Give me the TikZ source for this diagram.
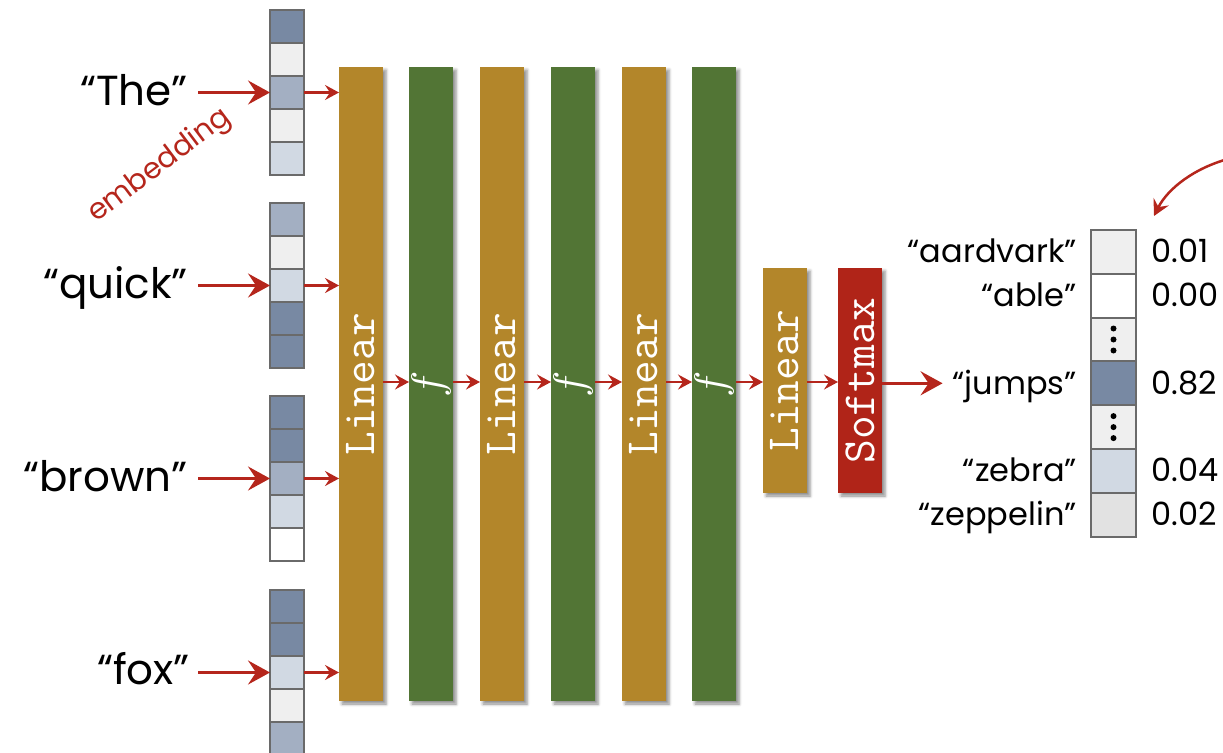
\documentclass[tikz,border=0pt]{standalone}
\usepackage{fontspec}
\setmainfont{Poppins}
\usetikzlibrary{arrows.meta,shadows.blur,calc}
\definecolor{arrowred}{HTML}{B5261C}
\definecolor{lingold}{HTML}{B3862A}
\definecolor{fgreen}{HTML}{527535}
\definecolor{smred}{HTML}{B02418}
\definecolor{cdark}{HTML}{7889A3}
\definecolor{cmid}{HTML}{A3AFC2}
\definecolor{cpale}{HTML}{D1D9E3}
\definecolor{clight}{HTML}{EFEFEF}
\definecolor{czep}{HTML}{E2E2E2}
\definecolor{cborder}{HTML}{6A6A6A}
\newcommand{\barfont}{\fontsize{46}{46}\selectfont\ttfamily}
\newcommand{\ffun}{\rotatebox{90}{\scalebox{4.4}{$f$}}}
\begin{document}
\begin{tikzpicture}[x=1pt,y=-1pt,
  bar/.style={minimum width=44pt, inner sep=0pt, outer sep=0pt, text=white,
    blur shadow={shadow xshift=3pt, shadow yshift=-3pt, shadow blur radius=3pt, shadow opacity=45}},
  cell/.style={draw=cborder, line width=2pt, minimum width=34pt, minimum height=33pt, inner sep=0pt, outer sep=0pt},
  ocell/.style={draw=cborder, line width=2pt, minimum width=45pt, minimum height=43.8pt, inner sep=0pt, outer sep=0pt},
  word/.style={font=\fontsize{42}{44}\selectfont, inner sep=0pt, anchor=base east},
  olabel/.style={font=\fontsize{32}{34}\selectfont, inner sep=0pt, anchor=base east},
  onum/.style={font=\fontsize{32}{34}\selectfont, inner sep=0pt, anchor=base west},
  bigarrow/.style={draw=arrowred, line width=3pt, -{Stealth[length=22pt, width=24pt, inset=8pt]}},
  smallarrow/.style={draw=arrowred, line width=2.5pt, -{Stealth[length=14pt, width=15pt, inset=5pt]}},
  curvearrow/.style={draw=arrowred, line width=2.5pt, -{Stealth[length=16pt, width=17pt, inset=6pt]}}
]
\useasboundingbox (0,0) rectangle (1223,752);

% ---------- bars ----------
\node[bar, fill=lingold, minimum height=634pt] (L1) at (361,384) {\rotatebox{90}{\barfont Linear}};
\node[bar, fill=fgreen,  minimum height=634pt] (G1) at (431,384) {\ffun};
\node[bar, fill=lingold, minimum height=634pt] (L2) at (502,384) {\rotatebox{90}{\barfont Linear}};
\node[bar, fill=fgreen,  minimum height=634pt] (G2) at (573,384) {\ffun};
\node[bar, fill=lingold, minimum height=634pt] (L3) at (644,384) {\rotatebox{90}{\barfont Linear}};
\node[bar, fill=fgreen,  minimum height=634pt] (G3) at (714,384) {\ffun};
\node[bar, fill=lingold, minimum height=225pt] (L4) at (785,380.5) {\rotatebox{90}{\barfont Linear}};
\node[bar, fill=smred,   minimum height=225pt] (SM) at (860,380.5) {\rotatebox{90}{\barfont Softmax}};

% ---------- input vectors ----------
\foreach \col [count=\i] in {cdark,clight,cmid,clight,cpale}
  \node[cell, fill=\col] (a\i) at (287,{26.5+33*(\i-1)}) {};
\foreach \col [count=\i] in {cmid,clight,cpale,cdark,cdark}
  \node[cell, fill=\col] (b\i) at (287,{219.5+33*(\i-1)}) {};
\foreach \col [count=\i] in {cdark,cdark,cmid,cpale,white}
  \node[cell, fill=\col] (c\i) at (287,{412.5+33*(\i-1)}) {};
\foreach \col [count=\i] in {cdark,cdark,cpale,clight,cmid}
  \node[cell, fill=\col] (d\i) at (287,{606.5+33*(\i-1)}) {};

% ---------- words ----------
\node[word] (wThe)   at (188,105) {“The”};
\node[word] (wQuick) at (188,298) {“quick”};
\node[word] (wBrown) at (188,491) {“brown”};
\node[word] (wFox)   at (190,684) {“fox”};

\draw[bigarrow] ($(wThe.east |- a3)+(10,0)$) -- (a3.west);
\draw[bigarrow] ($(wQuick.east |- b3)+(10,0)$) -- (b3.west);
\draw[bigarrow] ($(wBrown.east |- c3)+(10,0)$) -- (c3.west);
\draw[bigarrow] ($(wFox.east |- d3)+(8,0)$) -- (d3.west);

\draw[smallarrow] (a3.east) -- (a3.east -| L1.west);
\draw[smallarrow] (b3.east) -- (b3.east -| L1.west);
\draw[smallarrow] (c3.east) -- (c3.east -| L1.west);
\draw[smallarrow] (d3.east) -- (d3.east -| L1.west);

\node[text=arrowred, rotate=37, font=\fontsize{29}{31}\selectfont, inner sep=0pt] (emb) at (160,166) {embedding};

% ---------- chain arrows ----------
\coordinate (chainy) at (0,382);
\draw[smallarrow] (L1.east |- chainy) -- (G1.west |- chainy);
\draw[smallarrow] (G1.east |- chainy) -- (L2.west |- chainy);
\draw[smallarrow] (L2.east |- chainy) -- (G2.west |- chainy);
\draw[smallarrow] (G2.east |- chainy) -- (L3.west |- chainy);
\draw[smallarrow] (L3.east |- chainy) -- (G3.west |- chainy);
\draw[smallarrow] (G3.east |- chainy) -- (L4.west |- chainy);
\draw[smallarrow] (L4.east |- chainy) -- (SM.west |- chainy);

% ---------- output vector ----------
\foreach \col [count=\i] in {clight,white,clight,cdark,clight,cpale,czep}
  \node[ocell, fill=\col] (o\i) at (1113.5,{251.9+43.8*(\i-1)}) {};
\foreach \k in {3,5} {
  \fill ($(o\k)+(0,-11)$) circle (3pt);
  \fill (o\k) circle (3pt);
  \fill ($(o\k)+(0,11)$) circle (3pt);
}

\node[olabel] (lAard) at (1077,262) {“aardvark”};
\node[olabel] (lAble) at (1077,306) {“able”};
\node[olabel] (lJump) at (1077,394) {“jumps”};
\node[olabel] (lZeb)  at (1077,481) {“zebra”};
\node[olabel] (lZep)  at (1077,525) {“zeppelin”};

\node[onum] (n1) at (1151,262) {0.01};
\node[onum] (n2) at (1151,306) {0.00};
\node[onum] (n4) at (1151,394) {0.82};
\node[onum] (n6) at (1151,481) {0.04};
\node[onum] (n7) at (1151,525) {0.02};

\draw[bigarrow] (SM.east |- o4) -- ($(lJump.west |- o4)+(-10,0)$);

% ---------- curved arrow ----------
\coordinate (cstart) at (1228,159);
\coordinate (cend) at (1154,216);
\draw[curvearrow] (cstart) .. controls (1195,168) and (1168,188) .. (cend);
\end{tikzpicture}
\end{document}
